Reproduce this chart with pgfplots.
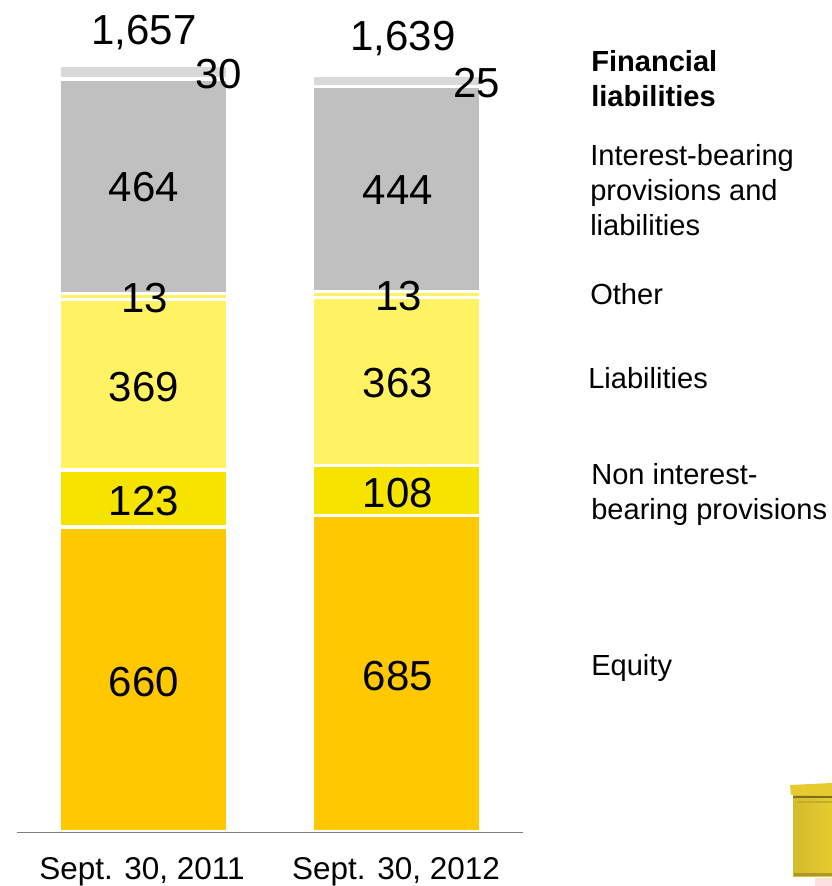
\documentclass[border=0pt]{standalone}
\usepackage{pgfplots}
\pgfplotsset{compat=1.18}
\usepackage{fontspec}
\setmainfont{Liberation Sans}
\definecolor{equity}{HTML}{FFC800}
\definecolor{nonint}{HTML}{F7E300}
\definecolor{liab}{HTML}{FFF263}
\definecolor{intb}{HTML}{C0C0C0}
\definecolor{fin}{HTML}{D9D9D9}
\definecolor{boxy}{HTML}{E6CB30}
\newcommand{\bignum}{\fontsize{31.5pt}{34pt}\selectfont}
\newcommand{\ticklab}{\fontsize{23.6pt}{26pt}\selectfont}
\newcommand{\sidelab}{\fontsize{21.8pt}{26.25pt}\selectfont}
\begin{document}
\begin{tikzpicture}
\begin{axis}[
  at={(0pt,0pt)}, anchor=south west,
  scale only axis, width=624pt, height=664.5pt,
  xmin=0, xmax=832, ymin=-116.8, ymax=1800,
  axis lines=none,
  ybar stacked, bar width=168.5,
  every axis plot/.append style={draw=white, line width=2.6pt},
]
% Balance sheet components, bottom to top
\addplot[fill=equity] coordinates {(143.5,660) (396.5,685)};
\addplot[fill=nonint] coordinates {(143.5,123) (396.5,108)};
\addplot[fill=liab]   coordinates {(143.5,369) (396.5,363)};
\addplot[fill=liab]   coordinates {(143.5,13)  (396.5,13)};
\addplot[fill=intb]   coordinates {(143.5,464) (396.5,444)};
\addplot[fill=fin]    coordinates {(143.5,30)  (396.5,25)};
\end{axis}
\begin{scope}[x=0.75pt, y=-0.75pt, yshift=664.5pt]
  \path[use as bounding box] (0,0) rectangle (832,886);
  % base line
  \draw[color=black!50, line width=1.1pt] (17,832.5) -- (523,832.5);
  % value labels, first bar
  \node[font=\bignum] at (144,33)  {1,657};
  \node[font=\bignum] at (219,74)  {30};
  \node[font=\bignum] at (144,187) {464};
  \node[font=\bignum] at (145,298) {13};
  \node[font=\bignum] at (144,387) {369};
  \node[font=\bignum] at (144,501) {123};
  \node[font=\bignum] at (144,682) {660};
  % value labels, second bar
  \node[font=\bignum] at (403,39)  {1,639};
  \node[font=\bignum] at (477,83)  {25};
  \node[font=\bignum] at (398,190) {444};
  \node[font=\bignum] at (399,296) {13};
  \node[font=\bignum] at (398,383) {363};
  \node[font=\bignum] at (398,493) {108};
  \node[font=\bignum] at (398,676) {685};
  % category labels
  \node[font=\ticklab, anchor=base, inner sep=0pt] at (142,879.5) {Sept. 30, 2011};
  \node[font=\ticklab, anchor=base, inner sep=0pt] at (396,879.5) {Sept. 30, 2012};
  % row captions on the right
  \node[font=\sidelab\bfseries, anchor=west, align=left, inner sep=0pt] at (591,79) {Financial\\liabilities};
  \node[font=\sidelab, anchor=west, align=left, inner sep=0pt] at (590,190) {Interest-bearing\\provisions and\\liabilities};
  \node[font=\sidelab, anchor=west, inner sep=0pt] at (590,294) {Other};
  \node[font=\sidelab, anchor=west, inner sep=0pt] at (588,378) {Liabilities};
  \node[font=\sidelab, anchor=west, align=left, inner sep=0pt] at (591,494) {Non interest-\\bearing provisions};
  \node[font=\sidelab, anchor=west, inner sep=0pt] at (591,668) {Equity};
  % letter box in the corner
  \begin{scope}
    \clip (0,0) rectangle (832,886);
    \fill[left color=boxy!92!black, right color=boxy] (793,793) rectangle (832,877);
    \fill[boxy] (790,785) -- (832,783) -- (832,795) -- (791,795) -- cycle;
    \fill[black!45!boxy] (793,796) rectangle (832,798);
    \fill[boxy!85!black] (797,801) rectangle (832,803);
    \fill[boxy!75!black] (794,873) rectangle (832,876);
    \fill[black!10!red!12!white] (815,878) rectangle (832,886);
  \end{scope}
\end{scope}
\end{tikzpicture}
\end{document}
